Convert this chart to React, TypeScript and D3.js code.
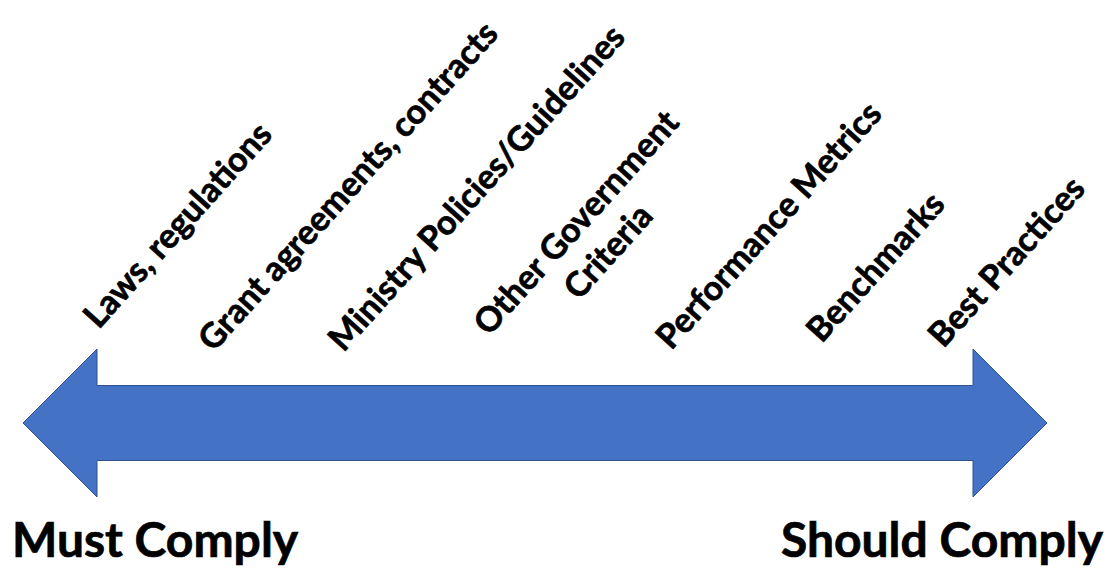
import React, { useEffect, useRef } from 'react';
import * as d3 from 'd3';

// compliance spectrum: 0 = must comply, 100 = should comply
const categories: string[][] = [
    ['Laws, regulations'],
    ['Grant agreements, contracts'],
    ['Ministry Policies/Guidelines'],
    ['Other Government', 'Criteria'],
    ['Performance Metrics'],
    ['Benchmarks'],
    ['Best Practices'],
];
const positions: number[] = [7.4, 18.6, 31.3, 45.5, 63.3, 78.0, 89.9];
const endLabels: string[] = ['Must Comply', 'Should Comply'];

const WIDTH = 1107;
const HEIGHT = 571;
const FONT = "Lato, 'Open Sans', 'DejaVu Sans', sans-serif";
const ANGLE = -48;
// small per-label baseline nudges (layout only)
const lift = [-18, 5, 5, -11, 3, -4, 1];

const App: React.FC = () => {
    const svgRef = useRef<SVGSVGElement | null>(null);

    useEffect(() => {
        if (svgRef.current) {
            drawChart();
        }
    }, []);

    const drawChart = () => {
        const svg = d3.select(svgRef.current);
        svg.selectAll('*').remove();

        const x = d3.scaleLinear().domain([0, 100]).range([23, 1047]);
        const yMid = 423;
        const headLen = 74;
        const headHalf = 74;
        const shaftHalf = 37.5;

        const x0 = x(0);
        const x1 = x(100);
        const pts: [number, number][] = [
            [x0, yMid],
            [x0 + headLen, yMid - headHalf],
            [x0 + headLen, yMid - shaftHalf],
            [x1 - headLen, yMid - shaftHalf],
            [x1 - headLen, yMid - headHalf],
            [x1, yMid],
            [x1 - headLen, yMid + headHalf],
            [x1 - headLen, yMid + shaftHalf],
            [x0 + headLen, yMid + shaftHalf],
            [x0 + headLen, yMid + headHalf],
        ];
        const line = d3.line().curve(d3.curveLinearClosed);

        svg.append('path')
            .attr('d', line(pts))
            .style('fill', '#4472C4')
            .style('stroke', '#2F528F')
            .style('stroke-width', 1);

        const baseY = 348;
        const lineGap = 43;

        const styleText = (t: d3.Selection<SVGTextElement, unknown, null, undefined>, size: number) =>
            t
                .style('font-family', FONT)
                .style('font-weight', 'bold')
                .style('font-size', `${size}px`)
                .style('fill', '#000')
                .style('stroke', '#000')
                .style('stroke-width', 0.7);

        const labels = svg
            .selectAll('.label')
            .data(categories)
            .enter()
            .append('g')
            .attr('class', 'label')
            .attr(
                'transform',
                (d, i) =>
                    `translate(${x(positions[i])},${baseY + lift[i]}) rotate(${ANGLE})`
            );

        labels.each(function (d) {
            const g = d3.select(this);
            const t = styleText(g.append('text') as any, 34)
                .attr('x', 0)
                .attr('y', 0)
                .text(d[0]);
            if (d.length > 1) {
                const w = (t.node() as SVGTextElement).getComputedTextLength();
                styleText(g.append('text') as any, 34)
                    .attr('x', w / 2)
                    .attr('y', lineGap)
                    .style('text-anchor', 'middle')
                    .text(d[1]);
            }
        });

        styleText(svg.append('text') as any, 48)
            .attr('x', 12)
            .attr('y', 557)
            .text(endLabels[0]);

        styleText(svg.append('text') as any, 48)
            .attr('x', 1103)
            .attr('y', 557)
            .style('text-anchor', 'end')
            .text(endLabels[1]);
    };

    return (
        <svg
            ref={svgRef}
            width={WIDTH}
            height={HEIGHT}
            style={{ position: 'absolute', left: 0, top: 0, background: '#fff' }}
        ></svg>
    );
};

export default App;
